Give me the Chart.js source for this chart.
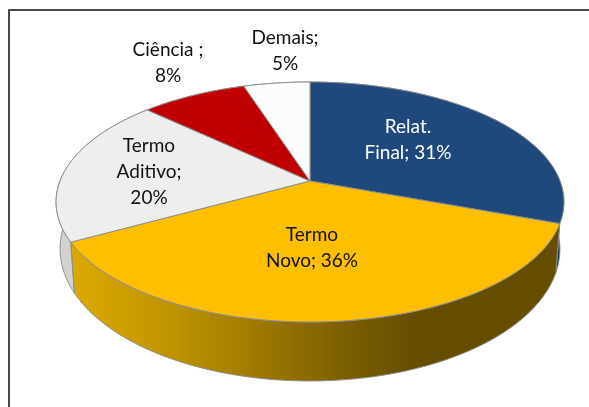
<!DOCTYPE html>
<html><head><meta charset="utf-8">
<style>html,body{margin:0;padding:0;background:#fff}canvas{display:block}</style>
<script src="https://cdn.jsdelivr.net/npm/chart.js@4"></script>
</head><body><canvas id="c" width="589" height="407"></canvas>
<script>
const categories = ["Relat. Final","Termo Novo","Termo Aditivo","Ciência","Demais"];
const shares = [30.6,36.4,20,8,5];
const labelLines = [["Relat.","Final; 31%"],["Termo","Novo; 36%"],["Termo","Aditivo;","20%"],["Ciência ;","8%"],["Demais;","5%"]];
const sliceColors = ["#1f497d","#fdbf00","#eeeeee","#c00000","#fcfcfc"];
const wallColors = ["#12305a",null,"#d2d2d2","#700000","#cccccc"];
const labelColors = ["#ffffff","#111111","#111111","#111111","#111111"];
const labelAnchors = [[408,127],[312,235],[149,146],[168,50],[285,38]];

const CX=310, CY=181, A=250, B=116.3, K=0.175;
function rim(a){const u=Math.cos(a),v=Math.sin(a),w=1-K*v;return [CX+A*u/w,CY+B*v/w];}
function base(a){const p=rim(a);return [CX+(250/254)*(p[0]-CX),381+1.1*(p[1]-322)];}
function steps(s,e){const n=Math.max(4,Math.ceil((e-s)*90));return Array.from({length:n+1},(_,i)=>s+(e-s)*i/n);}

const pie3d={id:'pie3d',
 beforeDatasetsDraw(chart){
  const ctx=chart.ctx, arcs=chart.getDatasetMeta(0).data;
  const grad=ctx.createLinearGradient(68,0,410,0);
  grad.addColorStop(0,'#dcaa00');grad.addColorStop(0.3,'#c09400');grad.addColorStop(0.7,'#8a6a00');grad.addColorStop(1,'#654e00');
  ctx.lineWidth=1;ctx.lineJoin='round';
  [4,3,0,2,1].forEach(i=>{
   const arc=arcs[i], t=steps(arc.startAngle,arc.endAngle);
   ctx.beginPath();
   t.forEach((a,j)=>{const p=rim(a);j?ctx.lineTo(p[0],p[1]):ctx.moveTo(p[0],p[1]);});
   t.slice().reverse().forEach(a=>{const p=base(a);ctx.lineTo(p[0],p[1]);});
   ctx.closePath();
   ctx.fillStyle=wallColors[i]||grad;ctx.fill();
   ctx.strokeStyle='#8c8c8c';ctx.stroke();
  });
  arcs.forEach((arc,i)=>{
   ctx.beginPath();ctx.moveTo(CX,CY);
   steps(arc.startAngle,arc.endAngle).forEach(a=>{const p=rim(a);ctx.lineTo(p[0],p[1]);});
   ctx.closePath();
   ctx.fillStyle=sliceColors[i];ctx.fill();
   ctx.strokeStyle='#8c8c8c';ctx.stroke();
  });
  ctx.font='19px Lato';ctx.textAlign='center';ctx.textBaseline='middle';
  labelLines.forEach((lines,i)=>{
   ctx.fillStyle=labelColors[i];
   lines.forEach((s,j)=>ctx.fillText(s,labelAnchors[i][0],labelAnchors[i][1]+j*26));
  });
  ctx.strokeStyle='#4a4a4a';ctx.lineWidth=2;
  ctx.beginPath();ctx.moveTo(9,407);ctx.lineTo(9,10);ctx.lineTo(589,10);ctx.stroke();
  return false;
 }};

new Chart(document.getElementById('c'),{
 type:'pie',
 data:{labels:categories,datasets:[{data:shares,backgroundColor:sliceColors}]},
 options:{responsive:false,animation:false,plugins:{legend:{display:false},tooltip:{enabled:false}}},
 plugins:[pie3d]
});
</script></body></html>
